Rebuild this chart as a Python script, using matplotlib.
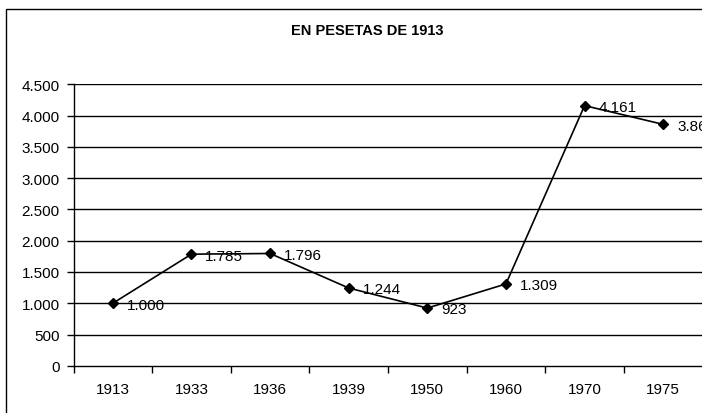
import matplotlib.pyplot as plt
from matplotlib.patches import Rectangle
from matplotlib.ticker import FixedLocator, NullFormatter

plt.rcParams['font.family'] = ['Liberation Sans', 'DejaVu Sans']

years = ['1913', '1933', '1936', '1939', '1950', '1960', '1970', '1975']
values = [1000, 1785, 1796, 1244, 923, 1309, 4161, 3861]
title = 'EN PESETAS DE 1913'


def es_fmt(v):
    return f"{v:,.0f}".replace(",", ".")


fig = plt.figure(figsize=(7.02, 4.14), dpi=100)

# chart frame (cut off on the right and bottom)
fig.patches.append(Rectangle((6 / 702, -0.1), 1.2, 1 - 10 / 414 + 0.1,
                             transform=fig.transFigure, fill=False,
                             edgecolor='black', linewidth=1.0))

ax = fig.add_axes([73.5 / 702, 1 - 366.8 / 414, 629 / 702, (366.8 - 85.4) / 414])
x = list(range(len(years)))
ax.plot(x, values, color='black', linewidth=1.2, marker='D', markersize=5.5,
        clip_on=False, zorder=3)
for xi, v in zip(x, values):
    ax.annotate(es_fmt(v), (xi, v), xytext=(10, -1), textcoords='offset points',
                ha='left', va='center', fontsize=11, annotation_clip=False)

ax.set_xlim(-0.5, len(years) - 0.5)
ax.set_ylim(0, 4500)
yt = list(range(0, 4501, 500))
ax.set_yticks(yt)
ax.set_yticklabels([es_fmt(v) for v in yt], fontsize=11)
ax.set_xticks(x)
ax.set_xticklabels(years, fontsize=11)
ax.tick_params(axis='x', which='major', length=0, pad=12)
ax.xaxis.set_minor_locator(FixedLocator([i + 0.5 for i in range(-1, len(years))]))
ax.xaxis.set_minor_formatter(NullFormatter())
ax.tick_params(axis='x', which='minor', length=5, direction='out', width=1)
ax.tick_params(axis='y', length=5, direction='out', width=1, pad=5)

for v in yt[1:]:
    ax.axhline(v, color='black', linewidth=1.0, zorder=1)
ax.spines['top'].set_visible(False)
ax.spines['right'].set_visible(False)
ax.spines['left'].set_linewidth(1.0)
ax.spines['bottom'].set_linewidth(1.0)

fig.text(367 / 702, 1 - 31 / 414, title, ha='center', va='center',
         fontsize=10.5, fontweight='bold')

fig.savefig('out.png', dpi=100)
